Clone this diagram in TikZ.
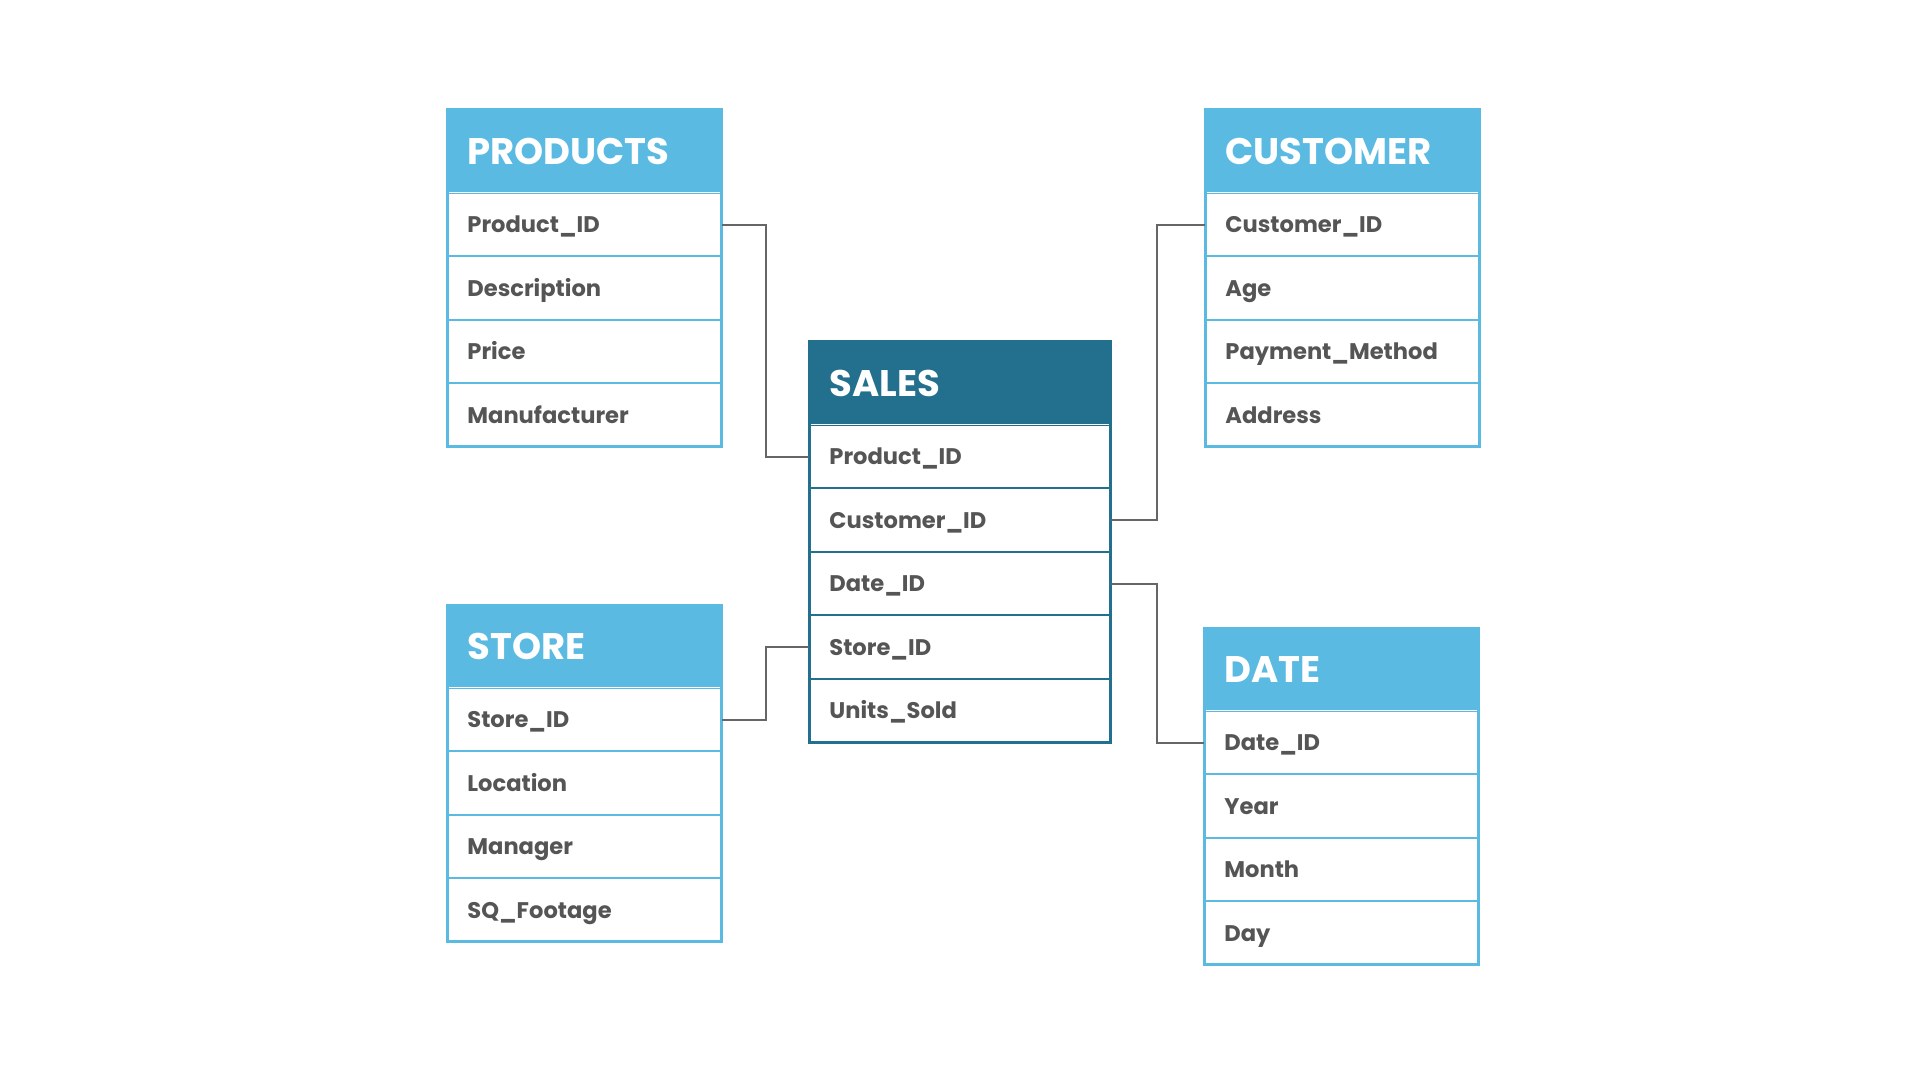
\documentclass[tikz,border=0pt]{standalone}
\usepackage{fontspec}
\setmainfont{Poppins}
\usetikzlibrary{positioning}
\definecolor{lightblue}{HTML}{5BBAE2}
\definecolor{deepteal}{HTML}{236F8E}
\definecolor{fieldgray}{HTML}{555555}
\definecolor{linkgray}{HTML}{666666}

\begin{document}
\begin{tikzpicture}[x=0.5pt, y=-0.5pt,
    tablehead/.style={anchor=north west, fill=#1, text=white, align=left,
      font=\fontsize{18.5}{22}\selectfont\bfseries, inner xsep=10pt, inner ysep=0pt,
      text height=15pt, text depth=2pt, minimum height=41pt},
    field/.style={draw=#1, line width=0.5pt, fill=white, text=fieldgray, align=left,
      font=\fontsize{11.3}{14}\selectfont\bfseries, inner xsep=10pt, inner ysep=0pt,
      text height=10pt, text depth=2pt, minimum height=31.25pt},
    frame/.style={draw=#1, line width=1.5pt},
    link/.style={draw=linkgray, line width=1pt}]
  \useasboundingbox[fill=white] (0,0) rectangle (1920,1080);
  % products
  \node[tablehead=lightblue, text width=117pt] (products-0) at (447,110) {PRODUCTS};
  \foreach \f [count=\i, remember=\i as \j (initially 0)] in {Product\_ID,Description,Price,Manufacturer}
    \node[field=lightblue, text width=117pt, below=0pt of products-\j] (products-\i) {\f};
  \draw[frame=lightblue] (products-0.north west) rectangle (products-4.south east);
  % customer
  \node[tablehead=lightblue, text width=117pt] (customer-0) at (1205,110) {CUSTOMER};
  \foreach \f [count=\i, remember=\i as \j (initially 0)] in {Customer\_ID,Age,Payment\_Method,Address}
    \node[field=lightblue, text width=117pt, below=0pt of customer-\j] (customer-\i) {\f};
  \draw[frame=lightblue] (customer-0.north west) rectangle (customer-4.south east);
  % store
  \node[tablehead=lightblue, text width=117pt] (store-0) at (447,605) {STORE};
  \foreach \f [count=\i, remember=\i as \j (initially 0)] in {Store\_ID,Location,Manager,SQ\_Footage}
    \node[field=lightblue, text width=117pt, below=0pt of store-\j] (store-\i) {\f};
  \draw[frame=lightblue] (store-0.north west) rectangle (store-4.south east);
  % date
  \node[tablehead=lightblue, text width=117pt] (date-0) at (1204,628) {DATE};
  \foreach \f [count=\i, remember=\i as \j (initially 0)] in {Date\_ID,Year,Month,Day}
    \node[field=lightblue, text width=117pt, below=0pt of date-\j] (date-\i) {\f};
  \draw[frame=lightblue] (date-0.north west) rectangle (date-4.south east);
  % sales (fact table)
  \node[tablehead=deepteal, text width=130.5pt] (sales-0) at (809,342) {SALES};
  \foreach \f [count=\i, remember=\i as \j (initially 0)] in {Product\_ID,Customer\_ID,Date\_ID,Store\_ID,Units\_Sold}
    \node[field=deepteal, text width=130.5pt, below=0pt of sales-\j] (sales-\i) {\f};
  \draw[frame=deepteal] (sales-0.north west) rectangle (sales-5.south east);
  % links
  \draw[link] (products-1.east) -- ++(44,0) |- (sales-1.west);
  \draw[link] (store-1.east) -- ++(44,0) |- (sales-4.west);
  \draw[link] (sales-2.east) -- ++(46,0) |- (customer-1.west);
  \draw[link] (sales-3.east) -- ++(46,0) |- (date-1.west);
\end{tikzpicture}
\end{document}
